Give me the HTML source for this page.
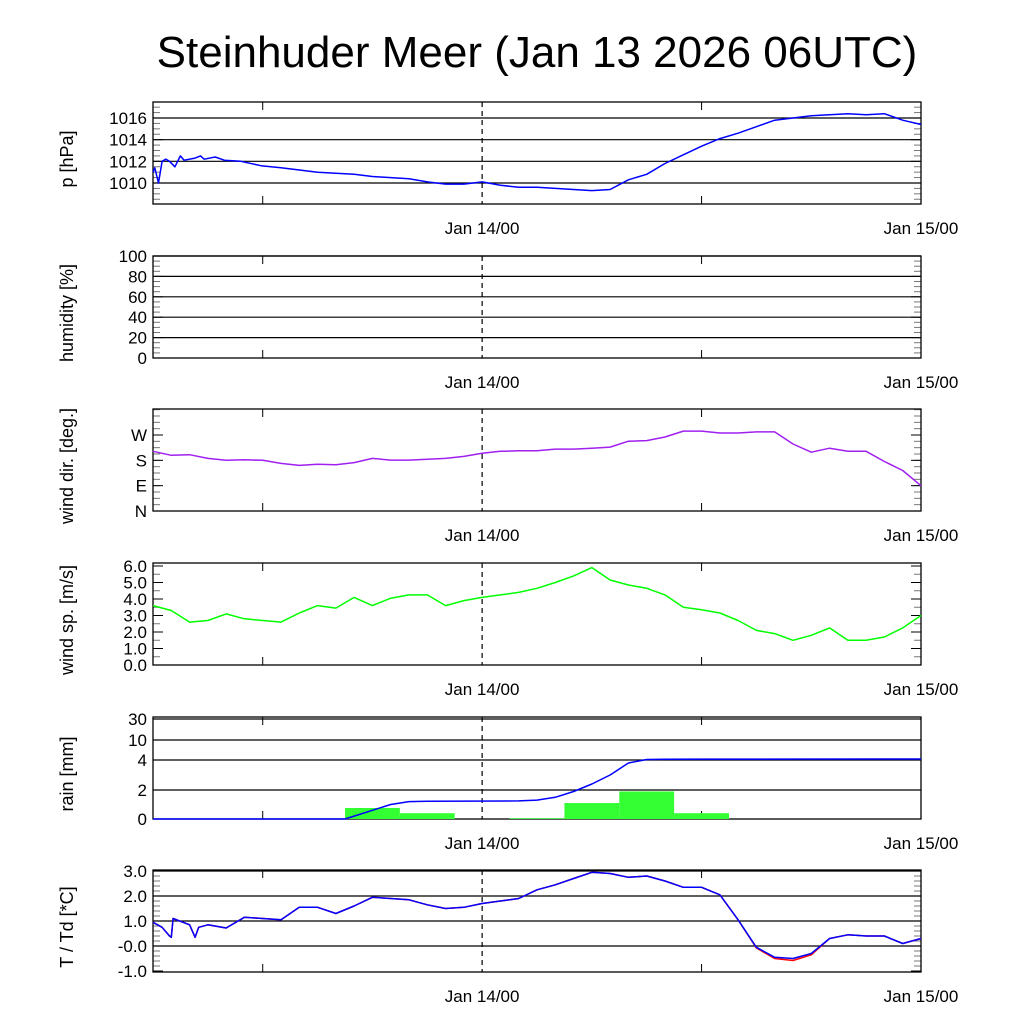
<!DOCTYPE html>
<html><head><meta charset="utf-8"><style>
html,body{margin:0;padding:0;background:#fff;}
svg{display:block;font-family:"Liberation Sans",sans-serif;}
</style></head><body>
<svg id="c" width="1024" height="1024" xmlns="http://www.w3.org/2000/svg">
<text x="537" y="67" font-size="44" text-anchor="middle">Steinhuder Meer (Jan 13 2026 06UTC)</text>
</svg>
<script>
// hours since Jan 13 06UTC
const hours = [0,1,2,3,4,5,6,7,8,9,10,11,12,13,14,15,16,17,18,19,20,21,22,23,24,25,26,27,28,29,30,31,32,33,34,35,36,37,38,39,40,41,42];
const pressureTimes = [0,0.1,0.3,0.5,0.7,0.9,1.2,1.5,1.7,2.3,2.6,2.8,3.4,3.9,4.8,5.9,7,8,9,10,11,12,13,14,15,16,17,18,19,20,21,22,23,24,25,26,27,28,29,30,31,32,33,34,35,36,37,38,39,40,41,42];
const pressure = [1011.0,1011.4,1010.0,1012.0,1012.2,1012.0,1011.5,1012.5,1012.1,1012.3,1012.5,1012.2,1012.4,1012.1,1012.0,1011.6,1011.4,1011.2,1011.0,1010.9,1010.8,1010.6,1010.5,1010.4,1010.1,1009.9,1009.9,1010.1,1009.8,1009.6,1009.6,1009.5,1009.4,1009.3,1009.4,1010.3,1010.8,1011.8,1012.6,1013.4,1014.1,1014.6,1015.2,1015.8,1016.0,1016.2,1016.3,1016.4,1016.3,1016.4,1015.8,1015.4];
const windDir = [212,198,200,187,180,182,180,169,162,166,164,172,187,181,181,184,187,194,205,212,214,214,220,220,223,227,248,250,263,284,284,277,277,281,281,238,209,223,212,212,176,144,90];
const windSpeed = [3.6,3.3,2.6,2.7,3.1,2.8,2.7,2.6,3.15,3.6,3.45,4.1,3.6,4.05,4.25,4.25,3.6,3.9,4.1,4.25,4.4,4.65,5.0,5.4,5.9,5.15,4.85,4.65,4.25,3.5,3.35,3.15,2.7,2.1,1.9,1.5,1.8,2.25,1.5,1.5,1.7,2.25,3.0];
const tempTimes = [0,0.5,0.9,1.0,1.1,2,2.3,2.5,3,4,5,6,7,8,9,10,11,12,13,14,15,16,17,18,19,20,21,22,23,24,25,26,27,28,29,30,31,32,33,34,35,36,37,38,39,40,41,42];
const temperature = [0.95,0.75,0.4,0.35,1.1,0.85,0.35,0.75,0.85,0.72,1.15,1.1,1.05,1.55,1.55,1.3,1.6,1.95,1.9,1.85,1.65,1.5,1.55,1.7,1.8,1.9,2.25,2.45,2.7,2.95,2.9,2.75,2.8,2.6,2.35,2.35,2.05,1.05,-0.05,-0.45,-0.5,-0.3,0.3,0.45,0.4,0.4,0.1,0.3];
const dewpoint = [0.95,0.75,0.4,0.35,1.1,0.85,0.35,0.75,0.85,0.72,1.15,1.1,1.05,1.55,1.55,1.3,1.6,1.95,1.9,1.85,1.65,1.5,1.55,1.7,1.8,1.9,2.25,2.45,2.7,2.95,2.9,2.75,2.8,2.6,2.35,2.35,2.05,1.05,-0.08,-0.5,-0.58,-0.35,0.3,0.45,0.4,0.4,0.1,0.3];
const rainStart = [10.5,13.5,19.5,22.5,25.5,28.5];
const rainAmount = [0.76,0.4,0.05,1.1,1.9,0.4];
const rainCumTimes = [0,10,10.5,11,12,13,14,15,20,21,22,23,24,25,26,27,28,30,42];
const rainCum = [0,0,0,0.2,0.6,1.0,1.2,1.22,1.25,1.3,1.5,1.9,2.4,3.0,3.8,4.15,4.25,4.28,4.3];
const xLabels = ["Jan 14/00","Jan 15/00"];
const xLabelHours = [18,42];

const svg=document.getElementById('c');
const NS='http://www.w3.org/2000/svg';
const X0=153,X1=921,H=42;
const xs=h=>X0+(X1-X0)*h/H;
function mk(tag,attrs,parent){const e=document.createElementNS(NS,tag);for(const k in attrs)e.setAttribute(k,attrs[k]);(parent||svg).appendChild(e);return e;}

function panel(p){
  const g=mk('g',{});
  
  
  const ys=p.ys;
  p.grid.forEach(v=>{const l=mk('line',{x1:X0,x2:X1,y1:ys(v),y2:ys(v),stroke:'#000','stroke-width':1.2},g);
    
    });
  p.minor.forEach(v=>{const y=ys(v);mk('line',{x1:X0,x2:X0+7,y1:y,y2:y,stroke:'#777','stroke-width':1},g);mk('line',{x1:X1-7,x2:X1,y1:y,y2:y,stroke:'#777','stroke-width':1},g);});
  p.ticks.forEach((v,i)=>{const y=ys(v);
    mk('line',{x1:X0,x2:X0+10,y1:y,y2:y,stroke:'#000'},g);mk('line',{x1:X1-10,x2:X1,y1:y,y2:y,stroke:'#000'},g);
    const t=mk('text',{x:147,y:y+6,'font-size':17,'text-anchor':'end'},g);t.textContent=p.labels[i];
    
    });
  [6,30].forEach(h=>{mk('line',{x1:xs(h),x2:xs(h),y1:p.bot,y2:p.bot-8,stroke:'#000'},g);mk('line',{x1:xs(h),x2:xs(h),y1:p.top,y2:p.top+8,stroke:'#000'},g);});
  const d=mk('line',{x1:xs(18),x2:xs(18),y1:p.top,y2:p.bot,stroke:'#000','stroke-dasharray':'5,4','stroke-width':1.2},g);
  
  
  const fr=mk('rect',{x:X0,y:p.top,width:X1-X0,height:p.bot-p.top,fill:'none',stroke:'#000','stroke-width':1.3},g);
  
  
  p.draw(g,ys);
  xLabelHours.forEach((h,i)=>{const t=mk('text',{x:xs(h),y:p.bot+30,'font-size':17,'text-anchor':'middle'},g);t.textContent=xLabels[i];
    
    });
  const cy=(p.top+p.bot)/2;
  const tt=mk('text',{x:73,y:cy+6,'font-size':18,'text-anchor':'middle',transform:`rotate(-90 73 ${cy+6})`},g);tt.textContent=p.title;
  
  
}
function line(g,t,v,ys,color,name){
  const pts=t.map((h,i)=>xs(h).toFixed(1)+','+ys(v[i]).toFixed(1)).join(' ');
  const l=mk('polyline',{points:pts,fill:'none',stroke:color,'stroke-width':1.5,'stroke-linejoin':'round'},g);
  
  
}
function lin(v0,v1,y0,y1){return v=>y0+(v-v0)*(y1-y0)/(v1-v0);}
function range(a,b,s){const r=[];for(let v=a;v<=b+1e-9;v+=s)r.push(+v.toFixed(3));return r;}

panel({name:'pressure',top:102,bot:204,ys:lin(1010,1016,183,118),
  grid:[1010,1012,1014,1016],ticks:[1010,1012,1014,1016],labels:['1010','1012','1014','1016'],
  minor:range(1008.5,1017,0.5),title:'p [hPa]',
  draw:(g,ys)=>line(g,pressureTimes,pressure,ys,'#0000ff','pressure-line')});
panel({name:'humidity',top:256,bot:358,ys:lin(0,100,358,256),
  grid:[20,40,60,80,100],ticks:[0,20,40,60,80,100],labels:['0','20','40','60','80','100'],
  minor:range(5,95,5),title:'humidity [%]',draw:()=>{}});
panel({name:'wind-direction',top:409,bot:511,ys:lin(0,270,511,435),
  grid:[],ticks:[0,90,180,270],labels:['N','E','S','W'],
  minor:range(22.5,360,22.5),title:'wind dir. [deg.]',
  draw:(g,ys)=>line(g,hours,windDir,ys,'#a020f0','wind-direction-line')});
panel({name:'wind-speed',top:563,bot:665,ys:lin(0,6,665,566),
  grid:[],ticks:[0,1,2,3,4,5,6],labels:['0.0','1.0','2.0','3.0','4.0','5.0','6.0'],
  minor:range(0.5,6,0.5),title:'wind sp. [m/s]',
  draw:(g,ys)=>line(g,hours,windSpeed,ys,'#00ff00','wind-speed-line')});
const rv=[0,2,4,10,30],ry=[819,790,760,740,719];
function rainY(v){for(let i=1;i<rv.length;i++){if(v<=rv[i])return ry[i-1]+(v-rv[i-1])*(ry[i]-ry[i-1])/(rv[i]-rv[i-1]);}return ry[4];}
panel({name:'rain',top:717,bot:819,ys:rainY,
  grid:[2,4,10,30],ticks:[0,2,4,10,30],labels:['0','2','4','10','30'],
  minor:[],title:'rain [mm]',
  draw:(g,ys)=>{
    rainStart.forEach((s,i)=>{const y=ys(rainAmount[i]);const r=mk('rect',{x:xs(s),y:y,width:xs(s+3)-xs(s),height:819-y,fill:'#33ff33'},g);
      
      });
    line(g,rainCumTimes,rainCum,ys,'#0000ff','rain-cumulative-line');
  }});
panel({name:'temperature',top:870,bot:972,ys:lin(0,1,946,921),
  grid:[0,1,2,3],ticks:[-1,0,1,2,3],labels:['-1.0','-0.0','1.0','2.0','3.0'],
  minor:range(-0.8,3,0.2),title:'T / Td [*C]',
  draw:(g,ys)=>{line(g,tempTimes,dewpoint,ys,'#ff0000','dewpoint-line');line(g,tempTimes,temperature,ys,'#0000ff','temperature-line');}});
</script>
</body></html>
